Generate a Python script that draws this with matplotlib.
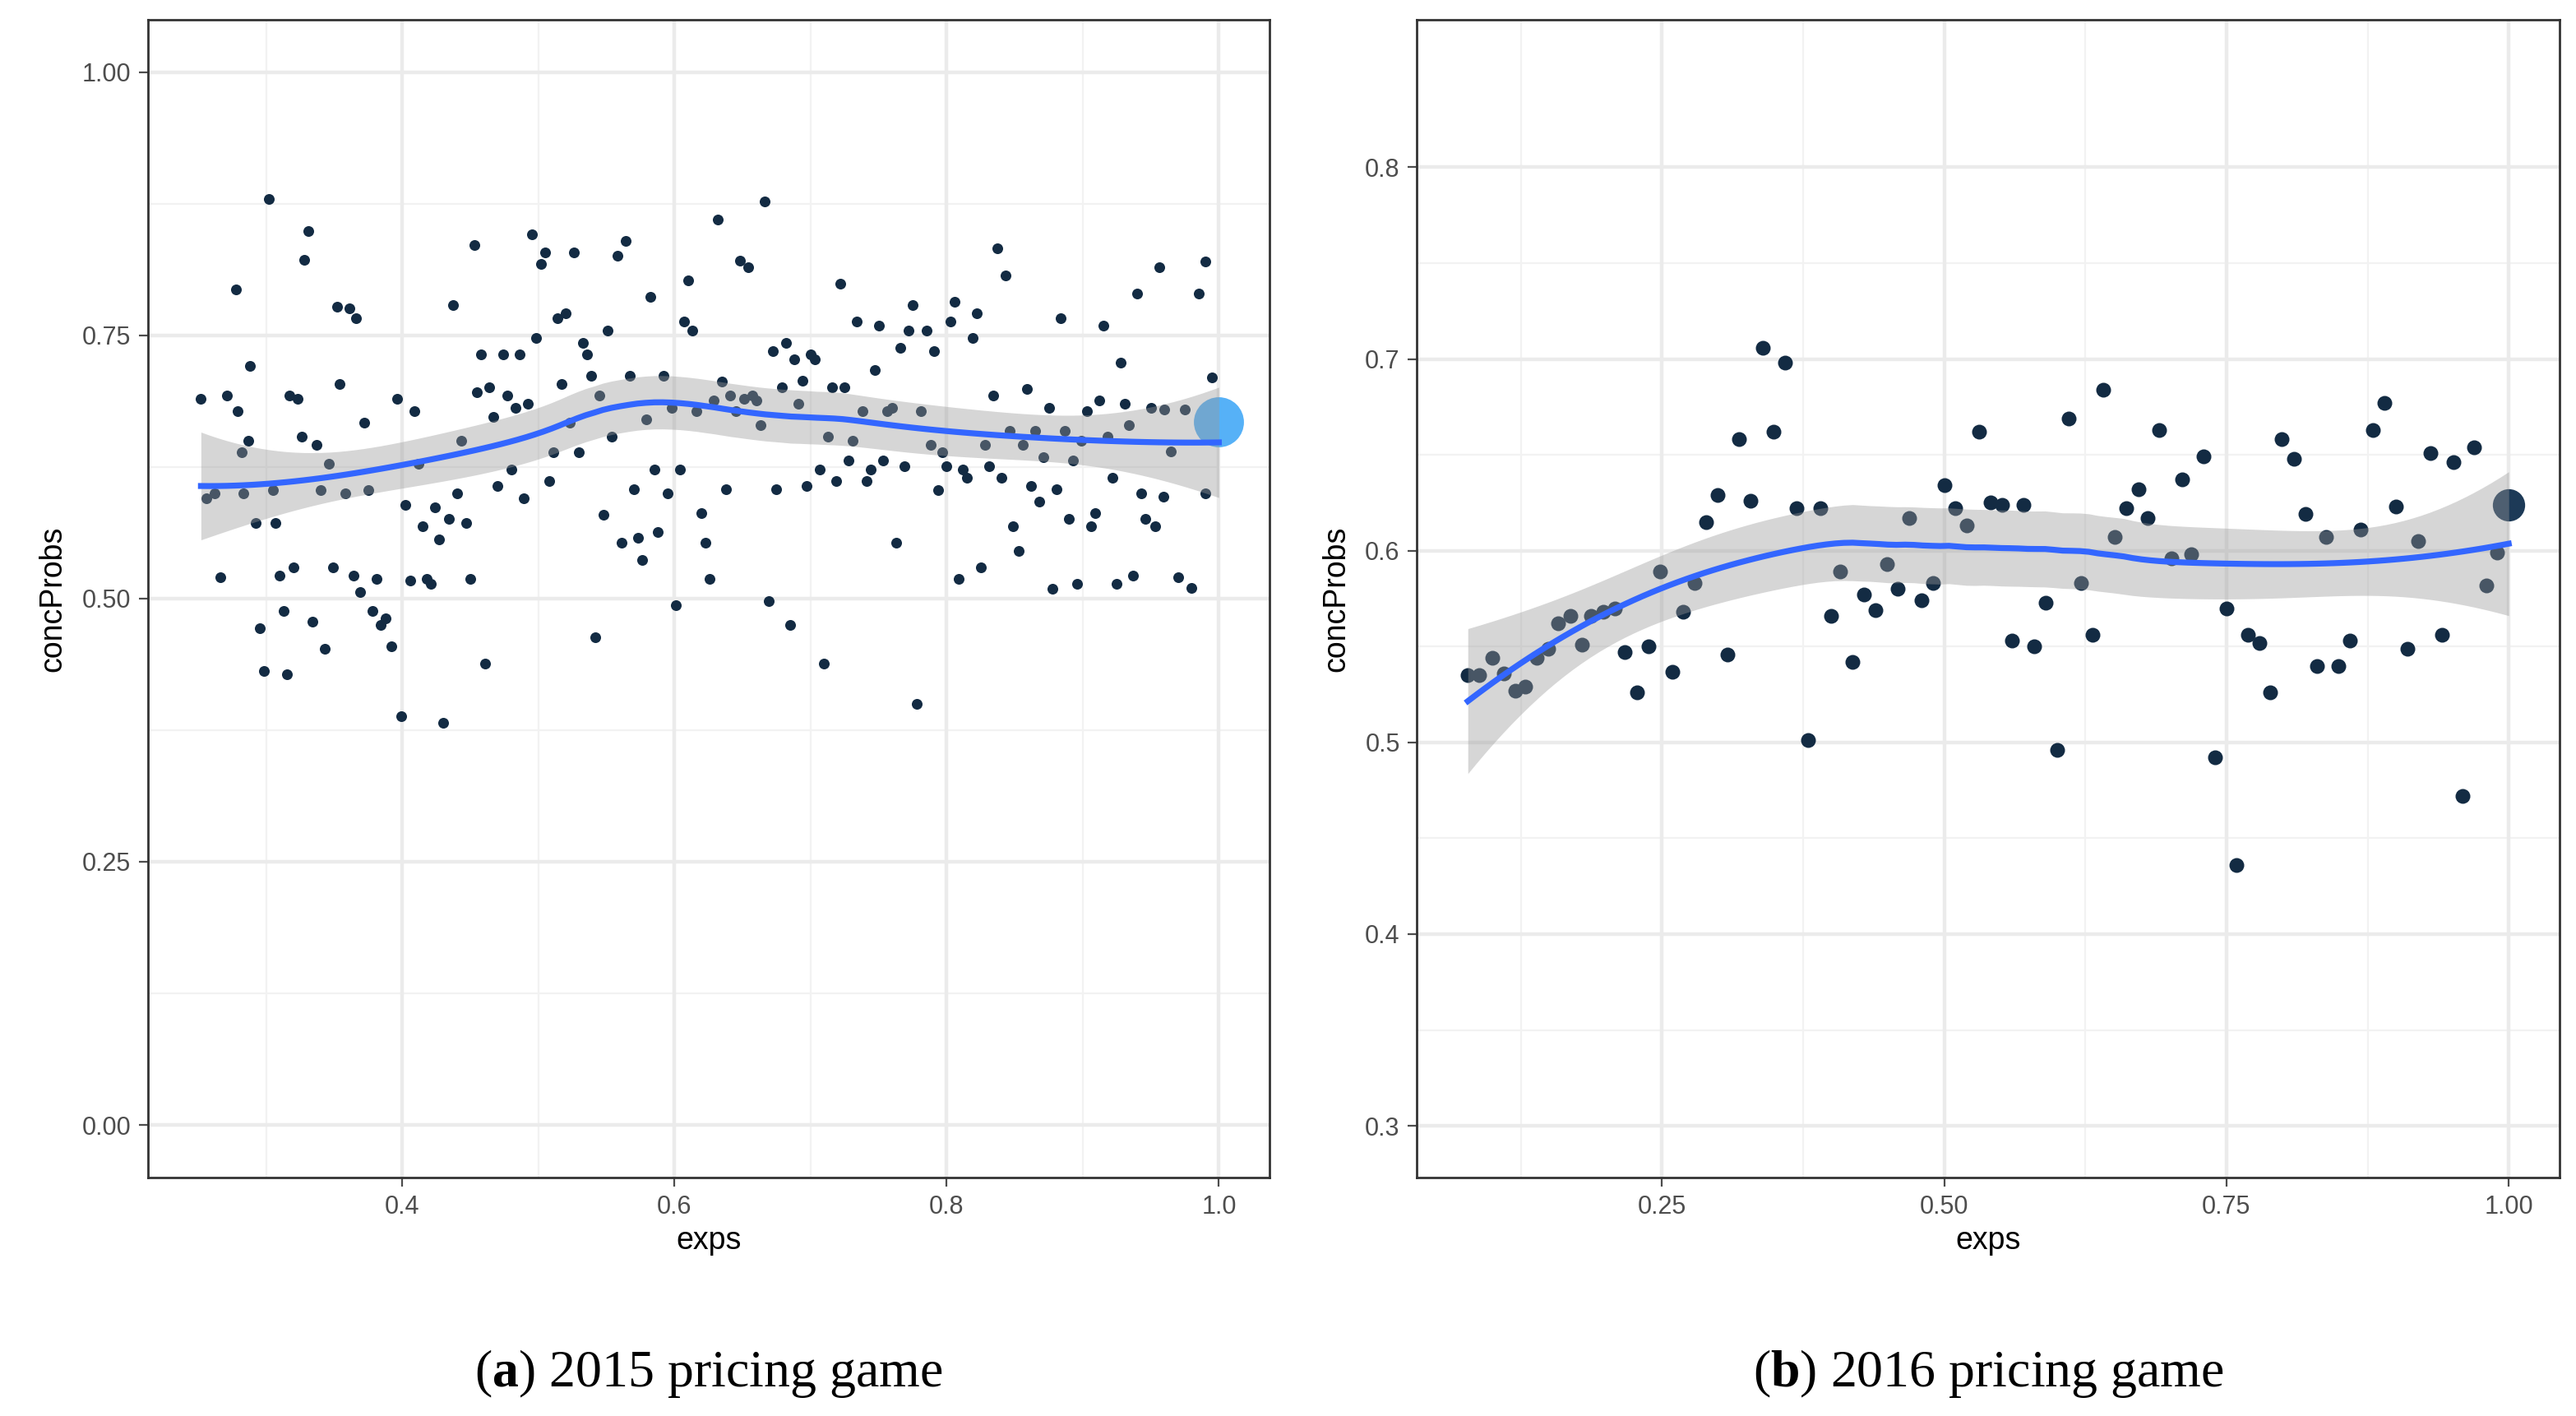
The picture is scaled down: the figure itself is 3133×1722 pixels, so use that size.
import numpy as np
import matplotlib
matplotlib.use("Agg")
import matplotlib.pyplot as plt

# ---------------- data ----------------
exps_2015 = [0.271,0.278,0.279,0.282,0.283,0.287,0.288,0.292,0.295,0.298,0.302,0.305,0.307,0.310,0.313,0.315,0.317,0.320,0.323,0.326,0.328,0.331,0.334,0.337,0.340,0.343,0.346,0.349,0.352,0.354,0.358,0.361,0.364,0.366,0.369,0.372,0.375,0.378,0.381,0.384,0.388,0.392,0.396,0.399,0.402,0.406,0.409,0.412,0.415,0.418,0.421,0.424,0.427,0.430,0.434,0.437,0.440,0.443,0.447,0.450,0.453,0.455,0.458,0.461,0.464,0.467,0.470,0.474,0.477,0.480,0.483,0.486,0.489,0.492,0.495,0.498,0.502,0.505,0.508,0.511,0.514,0.517,0.520,0.523,0.526,0.530,0.533,0.536,0.539,0.542,0.545,0.548,0.551,0.554,0.558,0.561,0.564,0.567,0.570,0.573,0.576,0.579,0.582,0.585,0.588,0.592,0.595,0.598,0.601,0.604,0.607,0.610,0.613,0.616,0.620,0.623,0.626,0.629,0.632,0.635,0.638,0.641,0.645,0.648,0.651,0.654,0.657,0.660,0.663,0.666,0.669,0.672,0.675,0.679,0.682,0.685,0.688,0.691,0.694,0.697,0.700,0.703,0.707,0.710,0.713,0.716,0.719,0.722,0.725,0.728,0.731,0.734,0.738,0.741,0.744,0.747,0.750,0.753,0.756,0.760,0.763,0.766,0.769,0.772,0.775,0.778,0.781,0.785,0.788,0.791,0.794,0.797,0.800,0.803,0.806,0.809,0.812,0.815,0.819,0.822,0.825,0.828,0.831,0.834,0.837,0.840,0.843,0.846,0.849,0.853,0.856,0.859,0.862,0.865,0.868,0.871,0.875,0.878,0.881,0.884,0.887,0.890,0.893,0.896,0.899,0.903,0.906,0.909,0.912,0.915,0.918,0.922,0.925,0.928,0.931,0.934,0.937,0.940,0.943,0.946,0.950,0.953,0.956,0.959,0.960,0.965,0.970,0.975,0.980,0.985,0.990,0.990,0.995,0.252,0.256,0.262,0.266]
conc_2015 = [0.693,0.794,0.678,0.639,0.600,0.650,0.721,0.572,0.472,0.431,0.880,0.603,0.572,0.522,0.488,0.428,0.693,0.530,0.690,0.654,0.822,0.849,0.478,0.646,0.603,0.452,0.628,0.530,0.777,0.704,0.600,0.776,0.522,0.766,0.506,0.667,0.603,0.488,0.519,0.475,0.481,0.455,0.690,0.388,0.589,0.517,0.678,0.628,0.569,0.519,0.514,0.587,0.556,0.382,0.576,0.779,0.600,0.650,0.572,0.519,0.836,0.696,0.732,0.438,0.701,0.673,0.607,0.732,0.693,0.623,0.681,0.732,0.595,0.685,0.846,0.748,0.818,0.829,0.612,0.639,0.766,0.704,0.771,0.667,0.829,0.639,0.743,0.732,0.712,0.463,0.693,0.580,0.755,0.654,0.826,0.553,0.840,0.712,0.604,0.558,0.537,0.670,0.787,0.623,0.563,0.712,0.600,0.681,0.494,0.623,0.763,0.802,0.755,0.678,0.581,0.553,0.519,0.688,0.860,0.706,0.604,0.693,0.678,0.821,0.690,0.815,0.693,0.688,0.665,0.877,0.498,0.735,0.604,0.701,0.743,0.475,0.727,0.685,0.707,0.607,0.732,0.727,0.623,0.438,0.654,0.701,0.612,0.799,0.701,0.631,0.650,0.763,0.678,0.612,0.623,0.717,0.759,0.631,0.678,0.681,0.553,0.738,0.626,0.755,0.779,0.400,0.678,0.755,0.646,0.735,0.603,0.639,0.626,0.763,0.782,0.519,0.623,0.615,0.748,0.771,0.530,0.646,0.626,0.693,0.833,0.615,0.807,0.659,0.569,0.545,0.646,0.699,0.607,0.659,0.592,0.634,0.681,0.509,0.604,0.766,0.659,0.576,0.631,0.514,0.650,0.678,0.569,0.581,0.688,0.759,0.654,0.615,0.514,0.724,0.685,0.665,0.522,0.790,0.600,0.576,0.681,0.569,0.815,0.597,0.680,0.640,0.520,0.680,0.510,0.790,0.820,0.600,0.710,0.690,0.595,0.600,0.520]
big_2015 = (1.0, 0.668)

exps_2016 = [0.078,0.088,0.100,0.110,0.120,0.129,0.139,0.149,0.158,0.169,0.179,0.187,0.198,0.208,0.217,0.228,0.238,0.248,0.259,0.269,0.279,0.289,0.299,0.308,0.318,0.328,0.339,0.349,0.359,0.369,0.379,0.390,0.400,0.408,0.419,0.429,0.439,0.449,0.459,0.469,0.480,0.490,0.500,0.510,0.520,0.531,0.541,0.551,0.560,0.570,0.580,0.590,0.600,0.610,0.621,0.631,0.641,0.651,0.661,0.672,0.680,0.690,0.701,0.711,0.719,0.730,0.740,0.750,0.759,0.769,0.779,0.789,0.799,0.810,0.820,0.830,0.838,0.849,0.859,0.869,0.880,0.890,0.900,0.910,0.920,0.931,0.941,0.951,0.959,0.969,0.980,0.990]
conc_2016 = [0.535,0.535,0.544,0.536,0.527,0.529,0.544,0.549,0.562,0.566,0.551,0.566,0.568,0.570,0.547,0.526,0.550,0.589,0.537,0.568,0.583,0.615,0.629,0.546,0.658,0.626,0.706,0.662,0.698,0.622,0.501,0.622,0.566,0.589,0.542,0.577,0.569,0.593,0.580,0.617,0.574,0.583,0.634,0.622,0.613,0.662,0.625,0.624,0.553,0.624,0.550,0.573,0.496,0.669,0.583,0.556,0.684,0.607,0.622,0.632,0.617,0.663,0.596,0.637,0.598,0.649,0.492,0.570,0.436,0.556,0.552,0.526,0.658,0.648,0.619,0.540,0.607,0.540,0.553,0.611,0.663,0.677,0.623,0.549,0.605,0.651,0.556,0.646,0.472,0.654,0.582,0.599]
big_2016 = (1.0, 0.624)

captions = [("a", "2015 pricing game"), ("b", "2016 pricing game")]

plt.rcParams["font.family"] = "Liberation Sans"
plt.rcParams["mathtext.fontset"] = "custom"
plt.rcParams["mathtext.rm"] = "Liberation Serif"
plt.rcParams["mathtext.bf"] = "Liberation Serif:bold"


def loess(x, y, xg, span=0.75):
    x = np.asarray(x); y = np.asarray(y)
    n = len(x); q = int(np.floor(n * span))

    def row(x0):
        d = np.abs(x - x0)
        h = np.sort(d)[q - 1]
        w = np.clip(1 - (d / h) ** 3, 0, None) ** 3
        dx = x - x0
        X = np.column_stack([np.ones(n), dx, dx ** 2])
        W = X * w[:, None]
        A = np.linalg.solve(X.T @ W, W.T)
        return A[0]

    L = np.array([row(v) for v in x])
    r = y - L @ y
    M = np.eye(n) - L
    d1 = np.trace(M.T @ M)
    s = np.sqrt(np.sum(r ** 2) / d1)
    G = np.array([row(v) for v in xg])
    fit = G @ y
    se = s * np.sqrt(np.sum(G ** 2, axis=1))
    return fit, se


def panel(ax, xs, ys, big, bigcol, bigsize, ptsize, xlim, ylim, xmaj, xmin, ymaj, ymin, xfmt, yfmt):
    ax.set_facecolor("white")
    for v in xmin:
        ax.axvline(v, color="#f2f2f2", lw=0.8, zorder=0)
    for v in ymin:
        ax.axhline(v, color="#f2f2f2", lw=0.8, zorder=0)
    for v in xmaj:
        ax.axvline(v, color="#ebebeb", lw=1.6, zorder=0)
    for v in ymaj:
        ax.axhline(v, color="#ebebeb", lw=1.6, zorder=0)
    ax.scatter(xs, ys, s=ptsize, color="#132B43", lw=0, zorder=2)
    ax.scatter([big[0]], [big[1]], s=bigsize, color=bigcol, lw=0, zorder=2)
    allx = np.append(xs, big[0]); ally = np.append(ys, big[1])
    xg = np.linspace(allx.min(), allx.max(), 120)
    fit, se = loess(allx, ally, xg)
    ax.fill_between(xg, fit - 1.97 * se, fit + 1.97 * se, color="#999999", alpha=0.4, lw=0, zorder=3)
    ax.plot(xg, fit, color="#3366FF", lw=2.6, zorder=4)
    ax.set_xlim(*xlim); ax.set_ylim(*ylim)
    ax.set_xticks(xmaj); ax.set_yticks(ymaj)
    ax.set_xticklabels([xfmt.format(v) for v in xmaj])
    ax.set_yticklabels([yfmt.format(v) for v in ymaj])
    ax.tick_params(labelsize=11, colors="#4d4d4d", length=4, width=0.8)
    for sp in ax.spines.values():
        sp.set_color("#333333"); sp.set_linewidth(1.0)
    ax.set_xlabel("exps", fontsize=13.5, labelpad=3)
    ax.set_ylabel("concProbs", fontsize=13.5, labelpad=6)


fig = plt.figure(figsize=(15.665, 8.61), dpi=200)
ax1 = fig.add_axes([0.0574, 0.1684, 0.4353, 0.8177])
ax2 = fig.add_axes([0.5501, 0.1684, 0.4435, 0.8177])

panel(ax1, exps_2015, conc_2015, big_2015, "#56B1F7", 480, 22,
      (0.213, 1.037), (-0.05, 1.05),
      [0.4, 0.6, 0.8, 1.0], [0.3, 0.5, 0.7, 0.9],
      [0.0, 0.25, 0.5, 0.75, 1.0], [0.125, 0.375, 0.625, 0.875],
      "{:.1f}", "{:.2f}")
panel(ax2, exps_2016, conc_2016, big_2016, "#1d3a57", 200, 42,
      (0.033, 1.045), (0.273, 0.877),
      [0.25, 0.5, 0.75, 1.0], [0.125, 0.375, 0.625, 0.875],
      [0.3, 0.4, 0.5, 0.6, 0.7, 0.8], [0.35, 0.45, 0.55, 0.65, 0.75],
      "{:.2f}", "{:.1f}")

for ax, (lab, txt) in zip([ax1, ax2], captions):
    pos = ax.get_position()
    fig.text((pos.x0 + pos.x1) / 2, 0.03, r"($\mathbf{" + lab + r"}$) " + txt,
             ha="center", va="center", fontsize=23, family="Liberation Serif")

fig.savefig("out.png", dpi=200)
